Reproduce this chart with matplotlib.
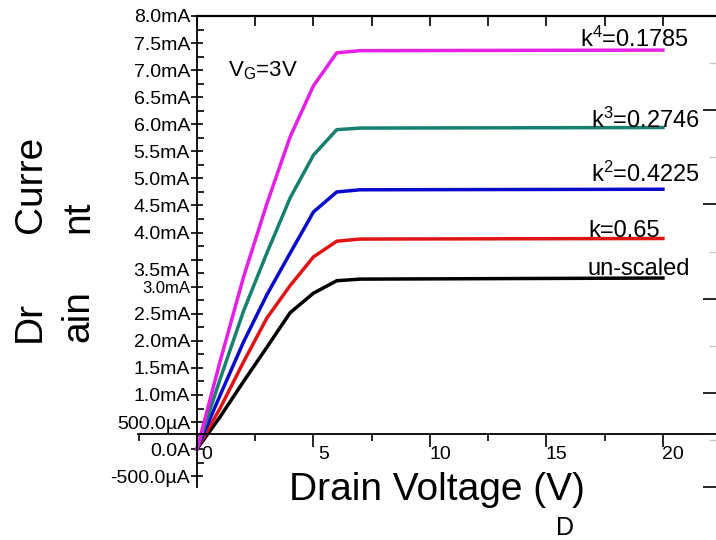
import matplotlib
matplotlib.use('Agg')
import matplotlib.pyplot as plt
import matplotlib.transforms as mtransforms
from matplotlib.ticker import FixedLocator, FixedFormatter, MultipleLocator, NullFormatter

plt.rcParams['font.family'] = ['Liberation Sans', 'DejaVu Sans']
plt.rcParams['mathtext.fontset'] = 'custom'
plt.rcParams['mathtext.rm'] = 'Liberation Sans'
plt.rcParams['mathtext.it'] = 'Liberation Sans:italic'

# ---------------- data ----------------
drain_voltage = [0, 1, 2, 3, 4, 5, 6, 7, 20]          # V
i_unscaled = [0, 0.60, 1.25, 1.88, 2.52, 2.88, 3.11, 3.14, 3.16]   # mA
i_k1 = [0, 0.76, 1.61, 2.42, 3.02, 3.55, 3.84, 3.88, 3.89]
i_k2 = [0, 1.00, 1.98, 2.85, 3.62, 4.38, 4.75, 4.79, 4.80]
i_k3 = [0, 1.30, 2.55, 3.62, 4.64, 5.43, 5.90, 5.93, 5.94]
i_k4 = [0, 1.63, 3.18, 4.53, 5.77, 6.71, 7.32, 7.36, 7.37]

series_labels = ['un-scaled', 'k=0.65', r'$\mathregular{k^2}$=0.4225',
                 r'$\mathregular{k^3}$=0.2746', r'$\mathregular{k^4}$=0.1785']
series_colors = ['#000000', '#E01414', '#0A0ACC', '#17806F', '#E61EE6']

xtick_values = [0, 5, 10, 15, 20]
xtick_labels = ['0', '5', '10', '15', '20']
ytick_values = [-0.5, 0.0, 0.5, 1.0, 1.5, 2.0, 2.5, 3.0, 3.5, 4.0, 4.5,
                5.0, 5.5, 6.0, 6.5, 7.0, 7.5, 8.0]
ytick_labels = ['-500.0µA', '0.0A', '500.0µA', '1.0mA', '1.5mA', '2.0mA', '2.5mA',
                '3.0mA', '3.5mA', '4.0mA', '4.5mA', '5.0mA', '5.5mA', '6.0mA',
                '6.5mA', '7.0mA', '7.5mA', '8.0mA']

# ---------------- figure ----------------
W, H = 716, 540
fig = plt.figure(figsize=(W / 100, H / 100), dpi=100)
rect = [138 / W, (H - 487) / H, (720 - 138) / W, (487 - 16) / H]
ax = fig.add_axes(rect)
xlim = (-2.53, 22.45)
ax.set_xlim(*xlim)
ax.set_ylim(-0.70, 8.0)

series = [i_unscaled, i_k1, i_k2, i_k3, i_k4]
for vals, col in zip(series, series_colors):
    ax.plot(drain_voltage, vals, color=col, lw=2.5, solid_joinstyle='round')

# series annotations (data coordinates)
label_pos = [(16.78, 3.22), (16.78, 3.92), (16.91, 4.94), (16.91, 5.93), (16.44, 7.43)]
for (lx, ly), txt in zip(label_pos, series_labels):
    ax.text(lx, ly, txt, fontsize=17, ha='left', va='baseline', color='black')

ax.text(1.33, 6.88, r'$\mathregular{V_G}$=3V', fontsize=16, ha='left', va='baseline')

# spines
ax.spines['top'].set_visible(False)
ax.spines['right'].set_visible(False)
ax.spines['left'].set_position(('data', 0))
ax.spines['bottom'].set_position(('data', 0.28))
for s in ('left', 'bottom'):
    ax.spines[s].set_linewidth(1.3)

# x ticks
ax.xaxis.set_major_locator(FixedLocator(xtick_values))
ax.xaxis.set_major_formatter(FixedFormatter(xtick_labels))
ax.xaxis.set_minor_locator(MultipleLocator(2.5))
ax.tick_params(axis='x', which='major', direction='out', length=9, width=1.2,
               labelsize=14, pad=0)
ax.tick_params(axis='x', which='minor', direction='out', length=5, width=1.2)

# y ticks
ax.yaxis.set_major_locator(FixedLocator(ytick_values))
ax.yaxis.set_major_formatter(FixedFormatter(ytick_labels))
ax.yaxis.set_minor_locator(MultipleLocator(0.25))
ax.tick_params(axis='y', which='major', direction='inout', length=8, width=1.2,
               labelsize=14, pad=1)
ax.tick_params(axis='y', which='minor', direction='in', length=5, width=1.2)

for lab in ax.get_xticklabels():
    lab.set_transform(lab.get_transform() +
                      mtransforms.ScaledTranslation(0.10, 0, fig.dpi_scale_trans))
for val, lab in zip(ytick_values, ax.get_yticklabels()):
    if val == 3.0:
        lab.set_fontsize(12)
    if val == 3.5:
        lab.set_transform(lab.get_transform() +
                          mtransforms.ScaledTranslation(0, -0.10, fig.dpi_scale_trans))

# overlay axes for top spine ticks and right-hand ticks
ax2 = fig.add_axes(rect, label='overlay')
ax2.set_facecolor('none')
ax2.set_xlim(*xlim)
ax2.set_ylim(0, 5)
for s in ('left', 'bottom', 'right'):
    ax2.spines[s].set_visible(False)
ax2.spines['top'].set_bounds(0, xlim[1])
ax2.spines['top'].set_linewidth(1.6)
ax2.xaxis.set_ticks_position('top')
ax2.xaxis.set_major_locator(FixedLocator([0, 5, 10, 15, 20]))
ax2.xaxis.set_minor_locator(FixedLocator([2.5, 7.5, 12.5, 17.5]))
ax2.xaxis.set_major_formatter(NullFormatter())
ax2.tick_params(axis='x', which='both', direction='in', length=7, width=1.2,
                top=True, bottom=False, labeltop=False, labelbottom=False)
ax2.yaxis.set_ticks_position('right')
ax2.yaxis.set_major_locator(MultipleLocator(1))
ax2.yaxis.set_minor_locator(MultipleLocator(0.5))
ax2.yaxis.set_major_formatter(NullFormatter())
ax2.tick_params(axis='y', which='major', direction='in', length=12, width=1.2,
                right=True, left=False, labelright=False, labelleft=False)
ax2.tick_params(axis='y', which='minor', direction='in', length=8, width=1.0,
                color='#c8c8c8', right=True, left=False)

# axis titles (as drawn in the reference)
fig.text(436.5 / W, (H - 500) / H, 'Drain Voltage (V)', fontsize=28,
         ha='center', va='baseline')
fig.text(565 / W, (H - 535) / H, 'D', fontsize=18, ha='center', va='baseline')
for txt, px, py in [('Curre', 41, 233), ('nt', 88, 233), ('Dr', 40, 342), ('ain', 88, 342)]:
    fig.text(px / W, (H - py) / H, txt, fontsize=28, rotation=90,
             rotation_mode='anchor', ha='left', va='baseline')

fig.savefig('out.png', dpi=100)
